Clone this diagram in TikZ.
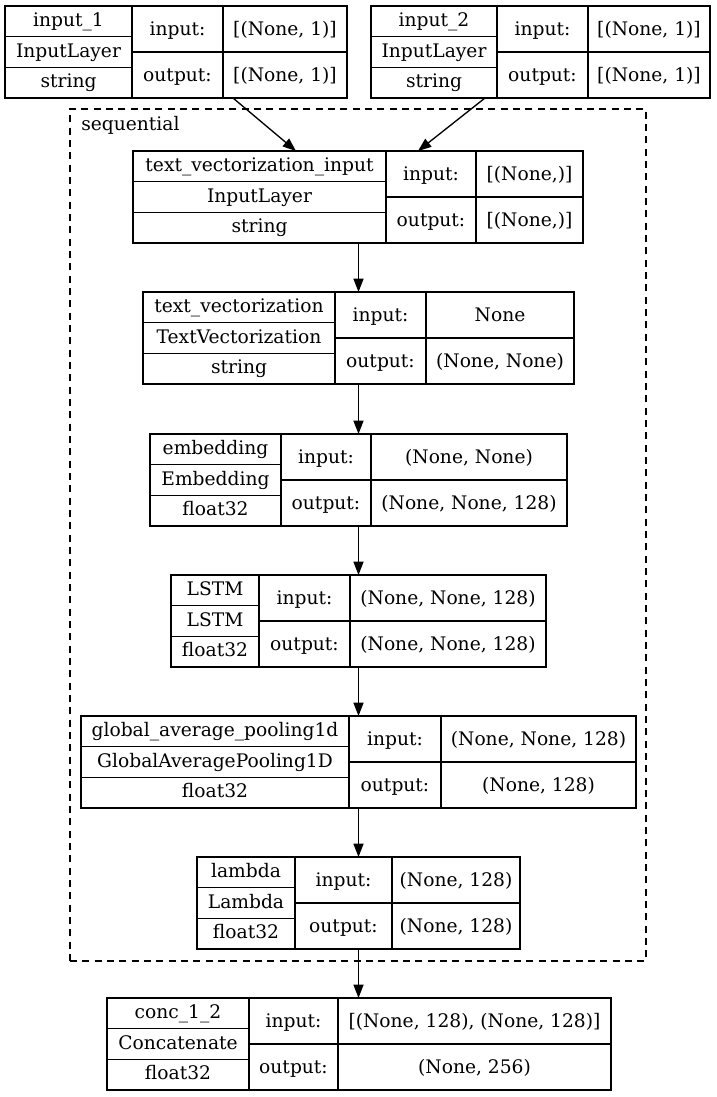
\documentclass[tikz,border=0pt]{standalone}
\usepackage{fontspec}
\setmainfont{DejaVu Serif}
\usetikzlibrary{arrows.meta,calc}
\tikzset{
  rec/.style={draw=black, line width=1pt, inner sep=0pt, outer sep=0pt, minimum height=69pt},
  recline/.style={draw=black, line width=1pt},
  txt/.style={anchor=base, inner sep=0pt, font=\fontsize{14}{17}\selectfont},
  arr/.style={draw=black, line width=1pt, -{Triangle[length=10pt,width=7.5pt]}},
  cluster/.style={draw=black, line width=1pt, dash pattern=on 5.25pt off 4pt, inner sep=0pt, outer sep=0pt},
}
\newcommand\layer[6]{%
  \node[rec, minimum width={(#5-#2)*0.75pt}, anchor=north west] (#1) at (#2,#6) {};
  \draw[recline] (#3,#6) -- (#3,#6+92) (#4,#6) -- (#4,#6+92)
    (#2,#6+30.67) -- (#3,#6+30.67) (#2,#6+61.33) -- (#3,#6+61.33)
    (#3,#6+46) -- (#5,#6+46);
  \coordinate (#1-r1) at ({(#2+#3)/2},#6+20.5);
  \coordinate (#1-r2) at ({(#2+#3)/2},#6+51);
  \coordinate (#1-r3) at ({(#2+#3)/2},#6+81.5);
  \coordinate (#1-ik) at ({(#3+#4)/2},#6+29);
  \coordinate (#1-ok) at ({(#3+#4)/2},#6+75);
  \coordinate (#1-iv) at ({(#4+#5)/2},#6+29);
  \coordinate (#1-ov) at ({(#4+#5)/2},#6+75);
}
\newcommand\cells[6]{%
  \node[txt] (#1-name) at (#1-r1) {#2};
  \node[txt] (#1-class) at (#1-r2) {#3};
  \node[txt] (#1-dtype) at (#1-r3) {#4};
  \node[txt] (#1-inkey) at (#1-ik) {input:};
  \node[txt] (#1-outkey) at (#1-ok) {output:};
  \node[txt] (#1-inval) at (#1-iv) {#5};
  \node[txt] (#1-outval) at (#1-ov) {#6};
}
\begin{document}
\begin{tikzpicture}[x=0.75pt,y=-0.75pt]
\useasboundingbox (0,0) rectangle (717,1097);
\fill[white] (0,0) rectangle (717,1097);

\node[cluster, minimum width={576*0.75pt}, minimum height={852*0.75pt}, anchor=north west] (seq) at (70,109) {};
\node[txt, anchor=base west] (seqlabel) at (81,130) {sequential};

\layer{in1}{5}{132}{223}{347}{6}
\cells{in1}{input\_1}{InputLayer}{string}{[(None, 1)]}{[(None, 1)]}
\layer{in2}{371}{497}{588}{710}{6}
\cells{in2}{input\_2}{InputLayer}{string}{[(None, 1)]}{[(None, 1)]}
\layer{tvi}{133}{386}{476}{583}{151}
\cells{tvi}{text\_vectorization\_input}{InputLayer}{string}{[(None,)]}{[(None,)]}
\layer{tv}{143}{335}{426}{574}{292}
\cells{tv}{text\_vectorization}{TextVectorization}{string}{None}{(None, None)}
\layer{emb}{150}{281}{371}{567}{434}
\cells{emb}{embedding}{Embedding}{float32}{(None, None)}{(None, None, 128)}
\layer{lstm}{171}{259}{350}{546}{575}
\cells{lstm}{LSTM}{LSTM}{float32}{(None, None, 128)}{(None, None, 128)}
\layer{gap}{81}{349}{441}{636}{716}
\cells{gap}{global\_average\_pooling1d}{GlobalAveragePooling1D}{float32}{(None, None, 128)}{(None, 128)}
\layer{lam}{197}{295}{392}{520}{857}
\cells{lam}{lambda}{Lambda}{float32}{(None, 128)}{(None, 128)}
\layer{conc}{107}{249}{338}{611}{998}
\cells{conc}{conc\_1\_2}{Concatenate}{float32}{[(None, 128), (None, 128)]}{(None, 256)}

\draw[arr] ($(in1.south west)+(228,0)$) -- ($(tvi.north west)+(163,0)$);
\draw[arr] ($(in2.south west)+(114,0)$) -- ($(tvi.north west)+(285,0)$);
\draw[arr] (tv.north |- tvi.south) -- (tv.north);
\draw[arr] (tv.south) -- (tv.south |- emb.north);
\draw[arr] (emb.south) -- (emb.south |- lstm.north);
\draw[arr] (lstm.south) -- (lstm.south |- gap.north);
\draw[arr] (gap.south) -- (gap.south |- lam.north);
\draw[arr] (lam.south) -- (lam.south |- conc.north);
\end{tikzpicture}
\end{document}
